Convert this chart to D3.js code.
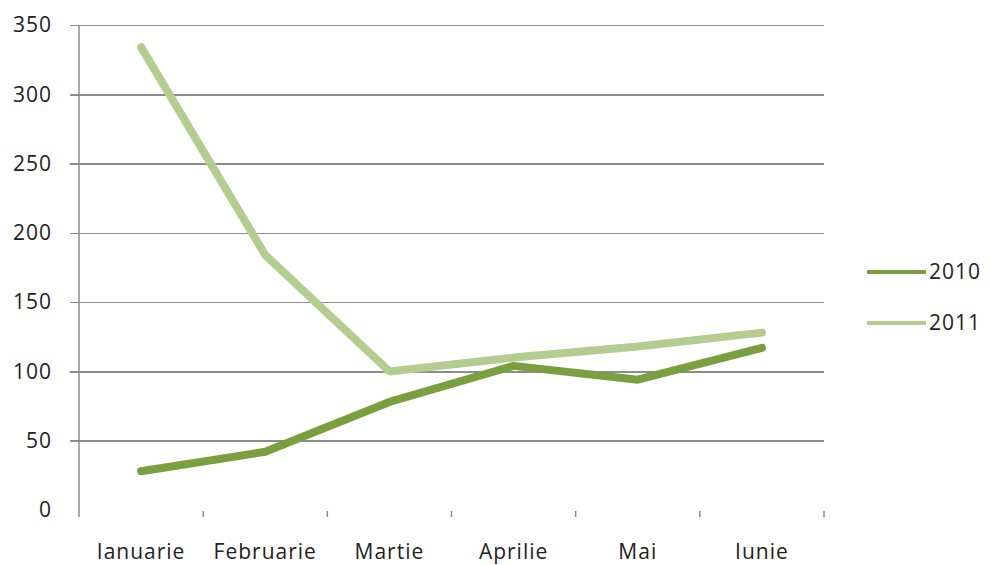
<!DOCTYPE html>
<meta charset="utf-8">
<style>
  body { margin: 0; background: #fff; }
  .grid line { stroke: #8c8c8c; stroke-width: 1.5px; shape-rendering: crispEdges; }
  .grid path { stroke-width: 0; }
  .axis text, .legend text { font-family: "Open Sans", "DejaVu Sans", sans-serif; font-size: 21px; fill: #222; letter-spacing: 1px; }
  .line { fill: none; stroke-width: 8px; stroke-linejoin: round; stroke-linecap: round; }
</style>
<script src="https://d3js.org/d3.v7.min.js"></script>
<div id="chart"></div>
<script>
  var months = ["Ianuarie", "Februarie", "Martie", "Aprilie", "Mai", "Iunie"]
  var values2010 = [28, 42, 78, 104, 94, 117]
  var values2011 = [334, 184, 100, 110, 118, 128]
  var yTicks = [0, 50, 100, 150, 200, 250, 300, 350]
  var seriesNames = ["2010", "2011"]
  var colors = ["#7B9F3F", "#B3CC8F"]

  var margin = {top: 25, left: 79},
      width = 745,
      height = 485;

  var svg = d3.select("#chart")
    .append("svg")
      .attr("width", 990)
      .attr("height", 565)
    .append("g")
      .attr("transform", "translate(" + margin.left + "," + margin.top + ")");

  var x = d3.scaleBand()
    .domain(months)
    .range([0, width])

  var y = d3.scaleLinear()
    .domain([0, 350])
    .range([height, 0])

  // horizontal gridlines (not the zero line)
  svg.append("g")
    .attr("class", "grid")
    .call(d3.axisLeft(y)
      .tickValues(yTicks.filter(function(d) { return d > 0 }))
      .tickSize(-width)
      .tickFormat(""))
    .selectAll("line")
      .attr("x1", -9)

  // y axis line
  svg.append("line")
    .attr("x1", 0).attr("x2", 0)
    .attr("y1", 0).attr("y2", height + 7)
    .attr("stroke", "#8c8c8c")
    .attr("stroke-width", 1.5)

  // y labels
  var yAxis = svg.append("g")
    .attr("class", "axis")
    .call(d3.axisLeft(y).tickValues(yTicks).tickSize(0).tickPadding(27))
  yAxis.select(".domain").remove()

  // x ticks at category boundaries
  var bounds = months.map(function(m) { return x(m) }).concat([width])
  svg.append("g")
    .selectAll("line")
    .data(bounds.slice(1))
    .enter().append("line")
      .attr("x1", function(d) { return d }).attr("x2", function(d) { return d })
      .attr("y1", height + 1).attr("y2", height + 7)
      .attr("stroke", "#8c8c8c")
      .attr("stroke-width", 1.5)

  var xAxis = svg.append("g")
    .attr("class", "axis")
    .attr("transform", "translate(0," + height + ")")
    .call(d3.axisBottom(x).tickSize(0).tickPadding(34))
  xAxis.select(".domain").remove()

  var line = d3.line()
    .x(function(d, i) { return x(months[i]) + x.bandwidth() / 2 })
    .y(function(d) { return y(d) })

  var series = [values2010, values2011]
  // draw 2011 first so 2010 is on top
  svg.selectAll(".line")
    .data([1, 0])
    .enter().append("path")
      .attr("class", "line")
      .attr("stroke", function(d) { return colors[d] })
      .attr("d", function(d) { return line(series[d]) })

  // legend
  var legend = svg.selectAll(".legend")
    .data(seriesNames)
    .enter().append("g")
      .attr("class", "legend")
      .attr("transform", function(d, i) { return "translate(" + (867 - margin.left) + "," + (272 - margin.top + i * 51) + ")" })

  legend.append("line")
    .attr("x1", 0).attr("x2", 59)
    .attr("stroke", function(d, i) { return colors[i] })
    .attr("stroke-width", 4)

  legend.append("text")
    .attr("x", 62)
    .attr("dy", "0.35em")
    .text(function(d) { return d })
</script>
